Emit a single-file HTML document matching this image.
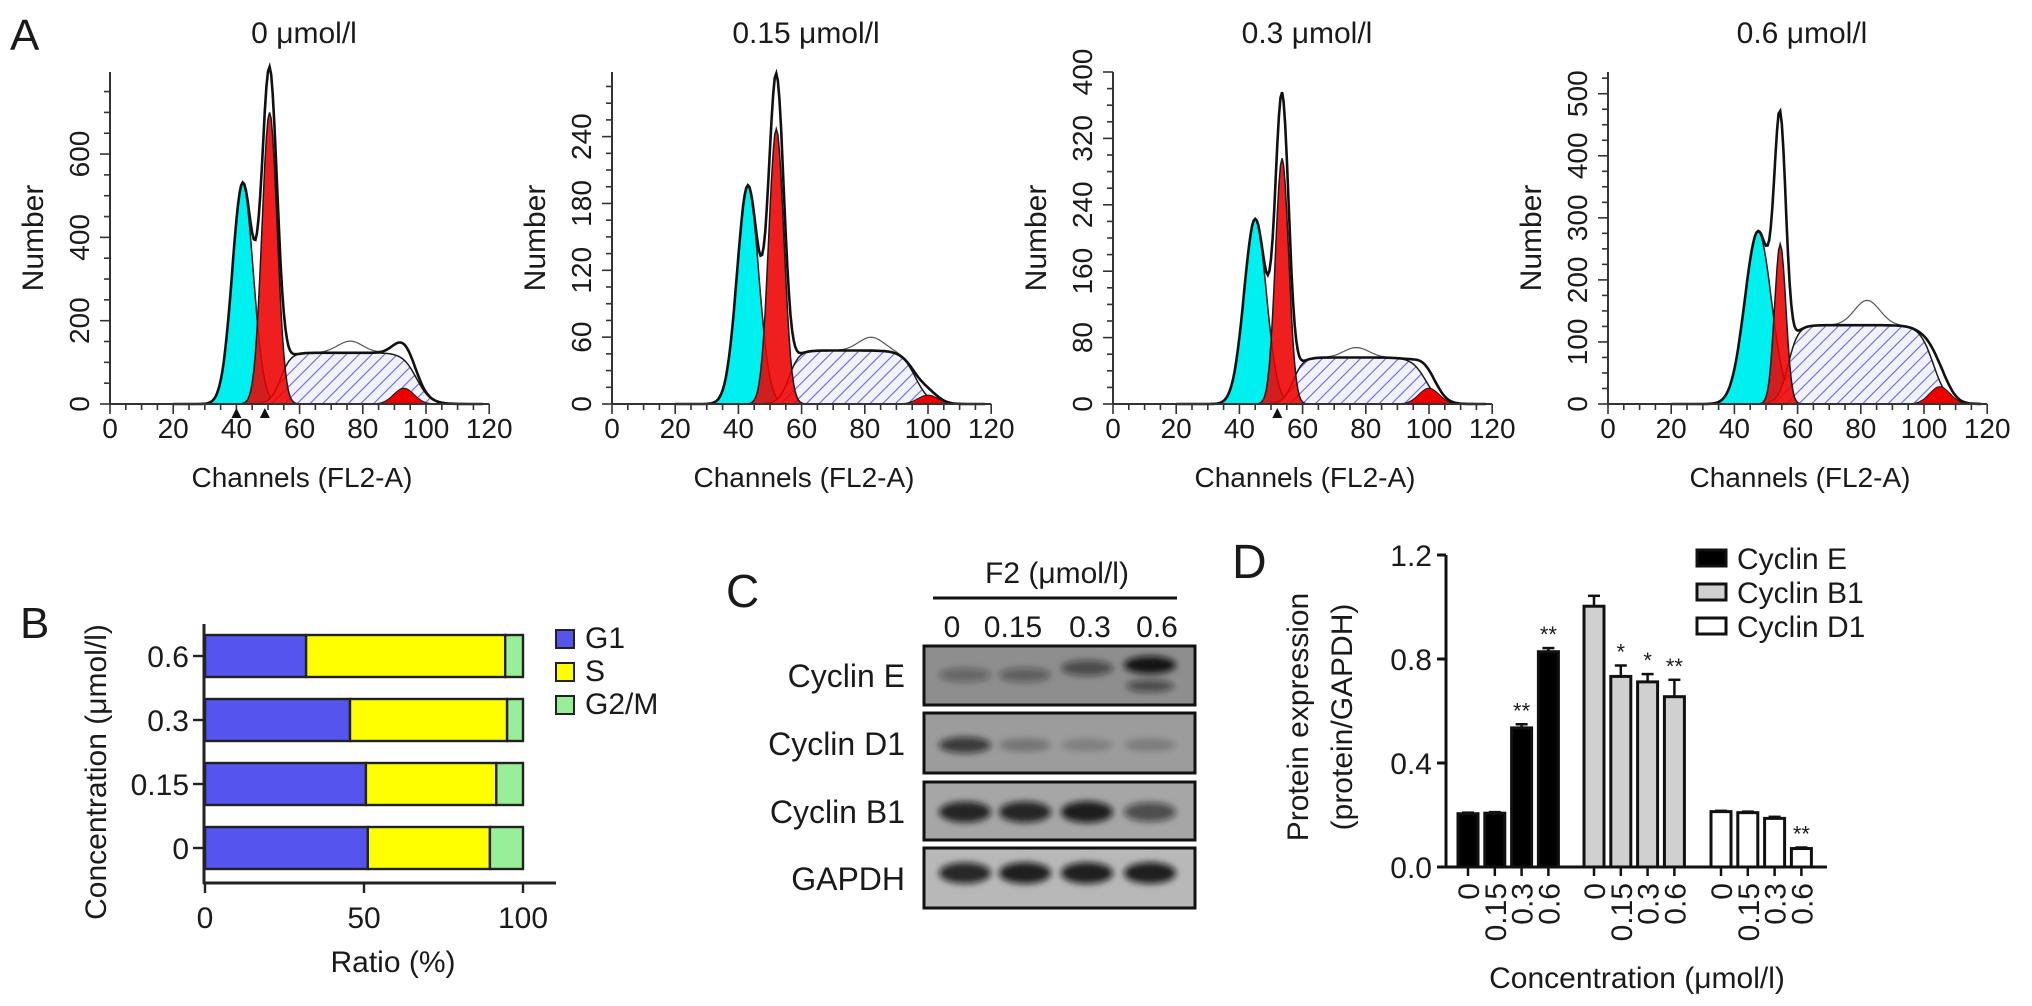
<!DOCTYPE html>
<html><head><meta charset="utf-8">
<style>
html,body{margin:0;padding:0;background:#fff;}
svg{display:block;font-family:"Liberation Sans",Arial,sans-serif;}
text{fill:#1a1a1a;}
</style></head>
<body>
<svg id="fig" width="2032" height="1006" viewBox="0 0 2032 1006" xmlns="http://www.w3.org/2000/svg">
<defs>
<pattern id="hatch" patternUnits="userSpaceOnUse" width="9" height="9" patternTransform="rotate(45)">
<rect width="9" height="9" fill="#f2f2ff"/>
<line x1="0" y1="0" x2="0" y2="9" stroke="#6a6ac8" stroke-width="2.2"/>
</pattern>
<filter id="blur3" x="-50%" y="-200%" width="200%" height="500%"><feGaussianBlur stdDeviation="3.2"/></filter>
</defs>
<text x="10" y="50" font-size="44">A</text>
<text x="20" y="638" font-size="44">B</text>
<text x="726" y="607" font-size="46">C</text>
<text x="1232" y="578" font-size="48">D</text>
<g id="panelA"></g>
<g id="panelB"></g>
<g id="panelC"></g>
<g id="panelD"></g>
</svg>
<script>
// ===== Panel A data =====
var aTitles = ['0 \u03bcmol/l','0.15 \u03bcmol/l','0.3 \u03bcmol/l','0.6 \u03bcmol/l'];
var aYMax = [797, 298, 400, 535];
var aYTickStep = [200, 60, 80, 100];
var aYMinorStep = [50, 15, 20, 25];
var g1Mean = [42, 43, 45, 47.5];
var g1Height = [530, 196, 223, 278];
var g1Sd = [3.3, 3.4, 3.5, 4.2];
var g2Mean = [50.5, 52, 53.5, 54.5];
var g2Height = [700, 247, 296, 258];
var g2Sd = [2.4, 2.4, 2.1, 1.8];
var envPeak = [797, 293, 370, 450];
var sStart = [54, 56, 57, 57];
var sEnd = [97, 96, 99, 103];
var sHeight = [123, 48, 56, 127];
var bumpMean = [93, 100, 100, 105];
var bumpHeight = [38, 8, 19, 28];
var rawHumpMean = [76, 82, 77, 82];
var rawHumpHeight = [28, 12, 12, 40];
var markers = [[40, 49], [], [52], []];
var xTicks = [0, 20, 40, 60, 80, 100, 120];

// ===== Panel B data =====
var bCategories = ['0', '0.15', '0.3', '0.6'];
var bG1 = [51.2, 50.6, 45.6, 31.8];
var bS = [38.4, 41.0, 49.4, 62.6];
var bG2M = [10.4, 8.4, 5.0, 5.6];
var bTicks = [0, 50, 100];

// ===== Panel C data =====
var cLanes = ['0', '0.15', '0.3', '0.6'];
var cProteins = ['Cyclin E', 'Cyclin D1', 'Cyclin B1', 'GAPDH'];
var bandE = [0.35, 0.4, 0.55, 0.95];
var bandD1 = [0.7, 0.25, 0.18, 0.2];
var bandB1 = [0.85, 0.85, 0.9, 0.6];
var bandGAPDH = [0.85, 0.9, 0.9, 0.9];

// ===== Panel D data =====
var dCategories = ['0', '0.15', '0.3', '0.6'];
var cyclinE = [0.205, 0.207, 0.535, 0.828];
var errE = [0.004, 0.004, 0.014, 0.014];
var cyclinB1 = [1.003, 0.733, 0.712, 0.655];
var errB1 = [0.04, 0.042, 0.03, 0.065];
var cyclinD1 = [0.213, 0.209, 0.187, 0.071];
var errD1 = [0.003, 0.004, 0.006, 0.004];
var sigE = ['', '', '**', '**'];
var sigB1 = ['', '*', '*', '**'];
var sigD1 = ['', '', '', '**'];
var dTicks = [0, 0.4, 0.8, 1.2];
var dSeriesNames = ['Cyclin E', 'Cyclin B1', 'Cyclin D1'];

var NS = 'http://www.w3.org/2000/svg';
function mk(parent, tag, attrs, txt) {
  var e = document.createElementNS(NS, tag);
  for (var k in attrs) e.setAttribute(k, attrs[k]);
  if (txt !== undefined) e.textContent = txt;
  parent.appendChild(e);
  return e;
}
function gauss(c, m, h, s) { return h * Math.exp(-(c - m) * (c - m) / (2 * s * s)); }
function sig(z) { return 1 / (1 + Math.exp(-z)); }

// ===== Panel A =====
var A = document.getElementById('panelA');
var axisX = [110, 612, 1113, 1608];
var pxCh = 3.16, y0 = 404, yTop = 72;
for (var p = 0; p < 4; p++) {
  var g = mk(A, 'g', {});
  
  
  var ax = axisX[p];
  var ys = (y0 - yTop) / aYMax[p];
  var X = function (c) { return ax + c * pxCh; };
  var Y = function (v) { return y0 - v * ys; };
  var cyanPts = [], redPts = [], sPts = [], bumpPts = [], envPts = [], rawPts = [];
  var redAtMean = g2Height[p] + gauss(g2Mean[p], g1Mean[p], g1Height[p], g1Sd[p]);
  var extra = Math.max(0, envPeak[p] - redAtMean);
  for (var c = 20; c <= 118; c += 0.5) {
    var cy = gauss(c, g1Mean[p], g1Height[p], g1Sd[p]);
    var rd = gauss(c, g2Mean[p], g2Height[p], g2Sd[p]);
    var sv = sHeight[p] * sig((c - sStart[p]) / 1.6) * sig((sEnd[p] - c) / 2.2);
    var bp = gauss(c, bumpMean[p], bumpHeight[p], 3.2);
    var ex = gauss(c, g2Mean[p], extra, g2Sd[p] * 1.1);
    var env = cy + rd + sv + bp + ex;
    cyanPts.push(X(c).toFixed(1) + ',' + Y(cy).toFixed(1));
    redPts.push(X(c).toFixed(1) + ',' + Y(rd).toFixed(1));
    sPts.push(X(c).toFixed(1) + ',' + Y(sv).toFixed(1));
    bumpPts.push(X(c).toFixed(1) + ',' + Y(bp).toFixed(1));
    envPts.push(X(c).toFixed(1) + ',' + Y(env).toFixed(1));
    var rh = gauss(c, rawHumpMean[p], rawHumpHeight[p], 4);
    rawPts.push(X(c).toFixed(1) + ',' + Y(env + rh).toFixed(1));
  }
  var base = ' ' + X(118).toFixed(1) + ',' + y0 + ' ' + X(20).toFixed(1) + ',' + y0;
  var e1 = mk(g, 'polygon', {points: cyanPts.join(' ') + base, fill: '#00f0f0', stroke: '#1a1a1a', 'stroke-width': 1.5});
  
  
  var e2 = mk(g, 'polygon', {points: sPts.join(' ') + base, fill: 'url(#hatch)', stroke: '#1a1a1a', 'stroke-width': 1.5});
  
  
  var e3 = mk(g, 'polygon', {points: redPts.join(' ') + base, fill: '#ee0000', 'fill-opacity': 0.88, stroke: '#1a1a1a', 'stroke-width': 1.5});
  
  
  var e4 = mk(g, 'polygon', {points: bumpPts.join(' ') + base, fill: '#ee0000', stroke: '#1a1a1a', 'stroke-width': 1});
  
  
  var e5 = mk(g, 'polyline', {points: rawPts.join(' '), fill: 'none', stroke: '#555', 'stroke-width': 1.2});
  
  
  var e6 = mk(g, 'polyline', {points: envPts.join(' '), fill: 'none', stroke: '#111', 'stroke-width': 2.6});
  
  
  var xa = mk(g, 'line', {x1: ax, y1: y0, x2: X(120), y2: y0, stroke: '#333', 'stroke-width': 2});
  
  
  var ya = mk(g, 'line', {x1: ax, y1: y0, x2: ax, y2: yTop, stroke: '#333', 'stroke-width': 2});
  
  
  for (var t = 0; t <= 120; t += 5) {
    var major = (t % 20 === 0);
    mk(g, 'line', {x1: X(t), y1: y0, x2: X(t), y2: y0 + (major ? 10 : 6), stroke: '#333', 'stroke-width': 1.6});
  }
  for (var ti = 0; ti < xTicks.length; ti++) {
    var xl = mk(g, 'text', {x: X(xTicks[ti]), y: 438, 'font-size': 28, 'text-anchor': 'middle'}, String(xTicks[ti]));
    
    
  }
  for (var v = 0; v <= aYMax[p]; v += aYMinorStep[p]) {
    var mj = (v % aYTickStep[p] === 0);
    mk(g, 'line', {x1: ax, y1: Y(v), x2: ax - (mj ? 10 : 6), y2: Y(v), stroke: '#333', 'stroke-width': 1.6});
    if (mj) {
      var yl = mk(g, 'text', {x: 0, y: 0, 'font-size': 28, 'text-anchor': 'middle', transform: 'translate(' + (ax - 21) + ',' + Y(v) + ') rotate(-90)'}, String(v));
      
      
    }
  }
  for (var mi = 0; mi < markers[p].length; mi++) {
    var mx = X(markers[p][mi]);
    var tri = mk(g, 'polygon', {points: (mx - 5) + ',' + (y0 + 14) + ' ' + (mx + 5) + ',' + (y0 + 14) + ' ' + mx + ',' + (y0 + 4), fill: '#111'});
    
    
  }
  var yt = mk(g, 'text', {x: 0, y: 0, 'font-size': 30, 'text-anchor': 'middle', transform: 'translate(' + (ax - 67) + ',' + 238 + ') rotate(-90)'}, 'Number');
  
  
  var xt = mk(g, 'text', {x: ax + 192, y: 487, 'font-size': 28, 'text-anchor': 'middle'}, 'Channels (FL2-A)');
  
  
  var tt = mk(g, 'text', {x: ax + 194, y: 43, 'font-size': 30, 'text-anchor': 'middle'}, aTitles[p]);
  
  
}

// ===== Panel B =====
var B = document.getElementById('panelB');
var bx0 = 205, bpx = 3.18;
var bCenters = [848, 784, 720, 656];
var bColors = ['#5555ee', '#ffff00', '#99ee99'];
function BX(v) { return bx0 + v * bpx; }
for (var i = 0; i < bCategories.length; i++) {
  var segs = [bG1[i], bS[i], bG2M[i]];
  var acc = 0;
  for (var s = 0; s < 3; s++) {
    var r = mk(B, 'rect', {x: BX(acc), y: bCenters[i] - 21, width: BX(acc + segs[s]) - BX(acc), height: 42, fill: bColors[s], stroke: '#222', 'stroke-width': 2.4});
    
    
    acc += segs[s];
  }
  mk(B, 'line', {x1: bx0 - 12, y1: bCenters[i], x2: bx0 - 2, y2: bCenters[i], stroke: '#222', 'stroke-width': 2.4});
  var bl = mk(B, 'text', {x: bx0 - 16, y: bCenters[i] + 11, 'font-size': 30, 'text-anchor': 'end'}, bCategories[i]);
  
  
}
var bya = mk(B, 'line', {x1: bx0 - 1, y1: 624, x2: bx0 - 1, y2: 884, stroke: '#222', 'stroke-width': 3});


var bxa = mk(B, 'line', {x1: bx0 - 2, y1: 883, x2: 556, y2: 883, stroke: '#222', 'stroke-width': 3});


for (var i = 0; i < bTicks.length; i++) {
  mk(B, 'line', {x1: BX(bTicks[i]), y1: 883, x2: BX(bTicks[i]), y2: 893, stroke: '#222', 'stroke-width': 2.4});
  var xl2 = mk(B, 'text', {x: BX(bTicks[i]), y: 928, 'font-size': 30, 'text-anchor': 'middle'}, String(bTicks[i]));
  
  
}
var bxt = mk(B, 'text', {x: 393, y: 972, 'font-size': 30, 'text-anchor': 'middle'}, 'Ratio (%)');


var byt = mk(B, 'text', {x: 0, y: 0, 'font-size': 30, 'text-anchor': 'middle', transform: 'translate(106,772) rotate(-90)'}, 'Concentration (\u03bcmol/l)');


var bLegNames = ['G1', 'S', 'G2/M'];
for (var s = 0; s < 3; s++) {
  var ly = 630 + s * 33;
  var lb = mk(B, 'rect', {x: 556, y: ly, width: 18, height: 18, fill: bColors[s], stroke: '#222', 'stroke-width': 2});
  
  
  var lt = mk(B, 'text', {x: 585, y: ly + 18, 'font-size': 30}, bLegNames[s]);
  
  
}

// ===== Panel C =====
var C = document.getElementById('panelC');
var cBoxes = [[646, 705], [713, 773], [782, 840], [848, 908]];
var cBg = ['#8e8e8e', '#9c9c9c', '#a6a6a6', '#b8b8b8'];
var cBandY = [668, 745, 812, 873];
var cLaneX = [965, 1025, 1087, 1150];
var cLaneLabelX = [952, 1013, 1090, 1157];
var cBands = [bandE, bandD1, bandB1, bandGAPDH];
var ht = mk(C, 'text', {x: 1057, y: 583, 'font-size': 30, 'text-anchor': 'middle'}, 'F2 (\u03bcmol/l)');


mk(C, 'line', {x1: 933, y1: 598, x2: 1177, y2: 598, stroke: '#111', 'stroke-width': 3});
for (var l = 0; l < cLanes.length; l++) {
  var ll = mk(C, 'text', {x: cLaneLabelX[l], y: 637, 'font-size': 30, 'text-anchor': 'middle'}, cLanes[l]);
  
  
}
for (var r = 0; r < 4; r++) {
  var box = mk(C, 'rect', {x: 924, y: cBoxes[r][0], width: 271, height: cBoxes[r][1] - cBoxes[r][0], fill: cBg[r], stroke: '#111', 'stroke-width': 3});
  
  
  for (var l = 0; l < 4; l++) {
    var inten = cBands[r][l];
    var by = cBandY[r];
    if (r === 0) by = (l < 2) ? 675 : (l === 2 ? 668 : 665);
    var band = mk(C, 'ellipse', {cx: cLaneX[l], cy: by, rx: 26, ry: (r >= 2 ? 8 : 6) + inten * 3, fill: '#111', 'fill-opacity': inten, filter: 'url(#blur3)'});
    
    
    if (r === 0 && l === 3) {
      var band2 = mk(C, 'ellipse', {cx: cLaneX[l], cy: 686, rx: 24, ry: 6, fill: '#111', 'fill-opacity': 0.55, filter: 'url(#blur3)'});
      
      
    }
  }
  var pl = mk(C, 'text', {x: 905, y: [687, 755, 823, 890][r], 'font-size': 32, 'text-anchor': 'end'}, cProteins[r]);
  
  
}

// ===== Panel D =====
var D = document.getElementById('panelD');
var dAxX = 1446, dY0 = 867, dPx = 260;
function DY(v) { return dY0 - v * dPx; }
var groupStart = [1468, 1594, 1721];
var barStep = 26.8, barW = 20;
var series = [cyclinE, cyclinB1, cyclinD1];
var errs = [errE, errB1, errD1];
var sigs = [sigE, sigB1, sigD1];
var fills = ['#000', '#d0d0d0', '#fff'];
var dya = mk(D, 'line', {x1: dAxX, y1: DY(1.2), x2: dAxX, y2: dY0 + 1, stroke: '#111', 'stroke-width': 3});


var dxa = mk(D, 'line', {x1: 1439, y1: dY0, x2: 1827, y2: dY0, stroke: '#111', 'stroke-width': 3});


for (var i = 0; i < dTicks.length; i++) {
  mk(D, 'line', {x1: dAxX - 9, y1: DY(dTicks[i]), x2: dAxX, y2: DY(dTicks[i]), stroke: '#111', 'stroke-width': 3});
  var dl = mk(D, 'text', {x: dAxX - 14, y: DY(dTicks[i]) + 11, 'font-size': 30, 'text-anchor': 'end'}, dTicks[i].toFixed(1));
  
  
}
for (var s = 0; s < 3; s++) {
  for (var i = 0; i < dCategories.length; i++) {
    var cx = groupStart[s] + i * barStep;
    var v = series[s][i], e = errs[s][i];
    var el = mk(D, 'line', {x1: cx, y1: DY(v), x2: cx, y2: DY(v + e), stroke: '#111', 'stroke-width': 2.5});
    
    
    var ec = mk(D, 'line', {x1: cx - 6, y1: DY(v + e), x2: cx + 6, y2: DY(v + e), stroke: '#111', 'stroke-width': 2.5});
    
    
    var bar = mk(D, 'rect', {x: cx - barW / 2, y: DY(v), width: barW, height: dY0 - DY(v), fill: fills[s], stroke: '#111', 'stroke-width': 3});
    
    
    if (sigs[s][i]) {
      var st = mk(D, 'text', {x: cx, y: DY(v + e) - 6, 'font-size': 22, 'text-anchor': 'middle'}, sigs[s][i]);
      
      
    }
    mk(D, 'line', {x1: cx, y1: dY0, x2: cx, y2: dY0 + 9, stroke: '#111', 'stroke-width': 2.5});
    var xl3 = mk(D, 'text', {x: 0, y: 0, 'font-size': 30, 'text-anchor': 'end', transform: 'translate(' + (cx + 11) + ',' + (dY0 + 16) + ') rotate(-90)'}, dCategories[i]);
    
    
  }
}
var dxt = mk(D, 'text', {x: 1637, y: 988, 'font-size': 30, 'text-anchor': 'middle'}, 'Concentration (\u03bcmol/l)');


var dyt1 = mk(D, 'text', {x: 0, y: 0, 'font-size': 30, 'text-anchor': 'middle', transform: 'translate(1308,717) rotate(-90)'}, 'Protein expression');


var dyt2 = mk(D, 'text', {x: 0, y: 0, 'font-size': 30, 'text-anchor': 'middle', transform: 'translate(1352,717) rotate(-90)'}, '(protein/GAPDH)');


for (var s = 0; s < 3; s++) {
  var ly2 = 550 + s * 34;
  var sw = mk(D, 'rect', {x: 1697, y: ly2, width: 29, height: 16, fill: fills[s], stroke: '#111', 'stroke-width': 3});
  
  
  var lt2 = mk(D, 'text', {x: 1737, y: ly2 + 19, 'font-size': 30}, dSeriesNames[s]);
  
  
}
</script>
</body></html>
